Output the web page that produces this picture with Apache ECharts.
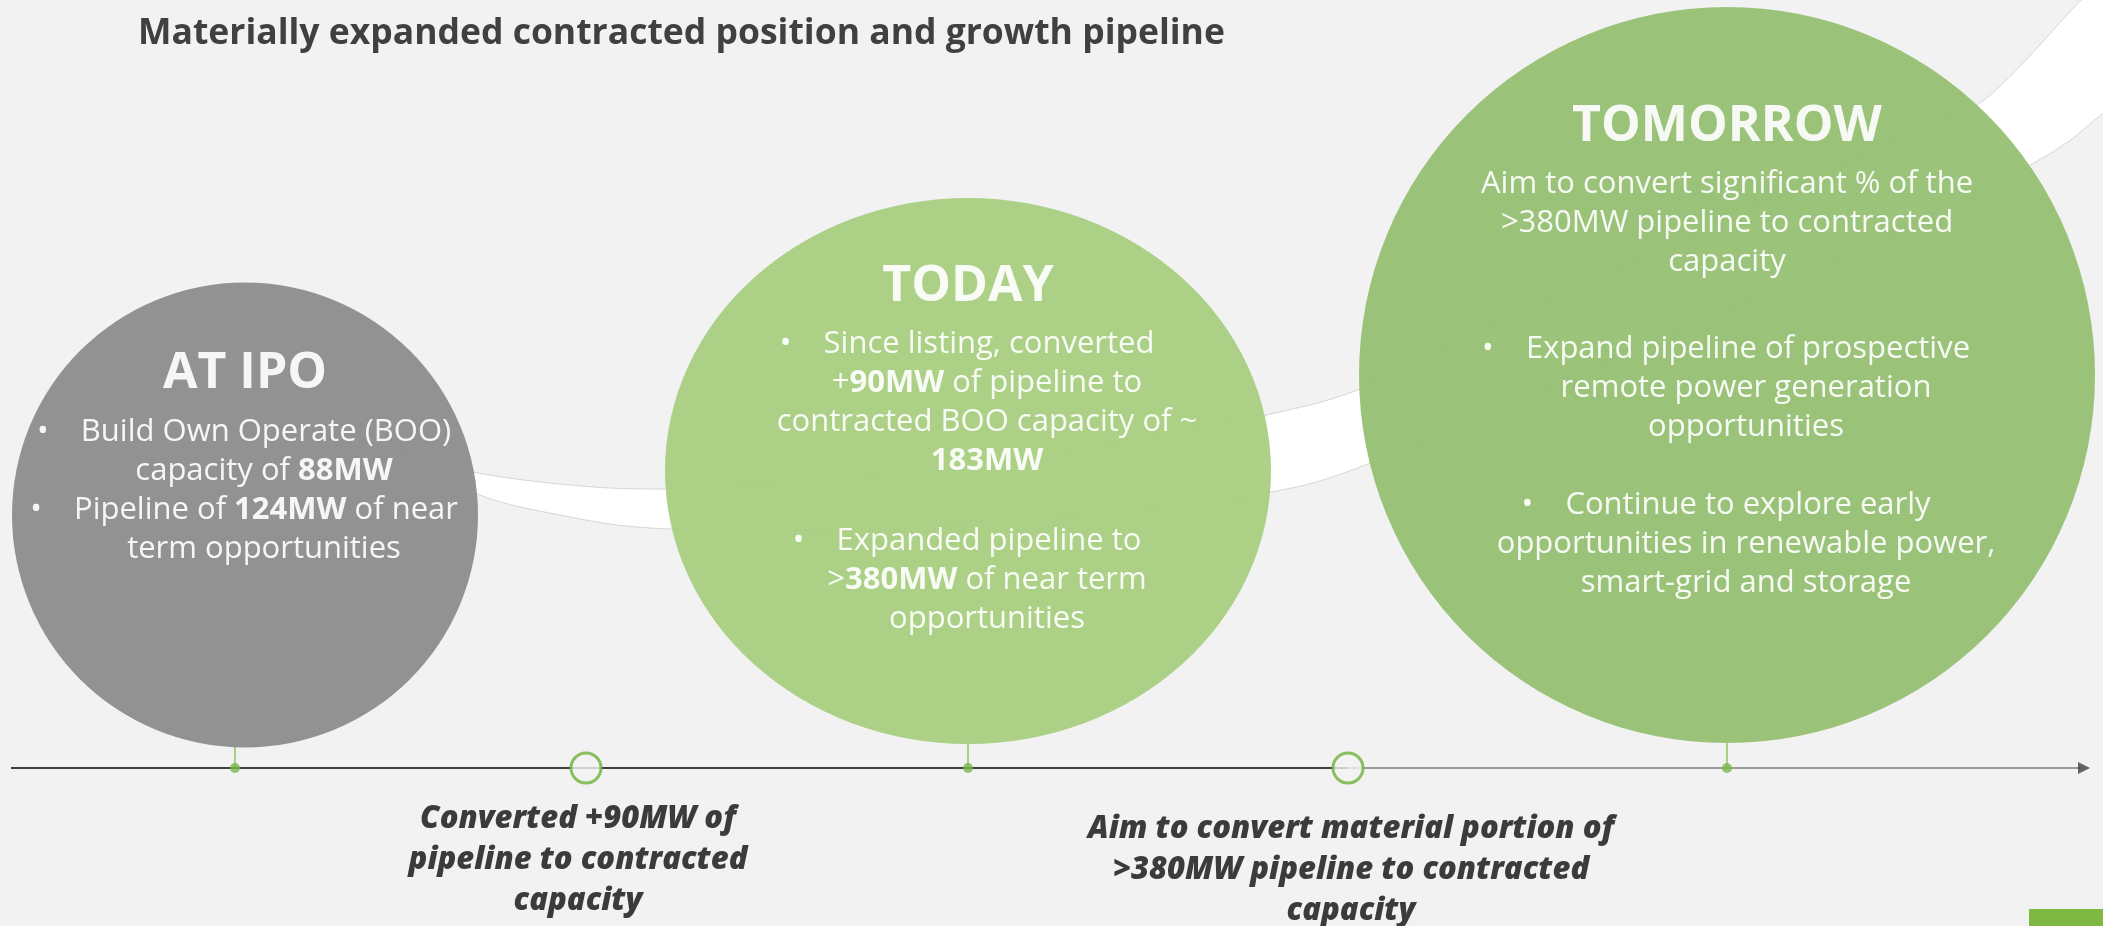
<!DOCTYPE html>
<html>
<head>
<meta charset="utf-8">
<script src="https://cdn.jsdelivr.net/npm/echarts@6/dist/echarts.min.js"></script>
<style>
  html, body { margin: 0; padding: 0; background: #f2f2f2; }
  #main { width: 2103px; height: 926px; }
</style>
</head>
<body>
<div id="main"></div>
<script>
// ---------------- data ----------------
var stageNames = ['AT IPO', 'TODAY', 'TOMORROW'];
var stageTickX = [235, 968, 1727];                       // stage dots on the timeline
var stageCenter = [[245, 515], [968, 471], [1727, 375]]; // bubble centres
var stageSize = [[466, 465], [606, 546], [736, 736]];    // bubble width / height
var stageBottom = [747, 744, 743];
var milestoneX = [586, 1348];
var timelineY = 768;
var timelineStart = 11;
var timelineEnd = 2080;

// white swoosh behind the bubbles (upper and lower edge)
var swooshUpper = [[400, 452], [473, 472], [560, 484], [650, 489], [800, 485], [1000, 466], [1150, 440],
  [1271, 414], [1360, 389], [1500, 325], [1700, 235], [1900, 140], [1984, 100], [2081, 0], [2140, -60]];
var swooshLower = [[400, 452], [480, 495], [560, 515], [650, 528], [800, 530], [1000, 518], [1150, 505],
  [1271, 492], [1360, 467], [1500, 405], [1700, 318], [1900, 228], [2039, 160], [2103, 113], [2160, 60]];

var titleText = 'Materially expanded contracted position and growth pipeline';

var stageText = [
  [
    '{h|AT IPO}',
    '{bul|•}{t|Build Own Operate (BOO)}{pad|\u00a0}',
    '{ind|\u00a0}{t|capacity of }{bold|88MW}',
    '{bul|•}{t|Pipeline of }{bold|124MW}{t| of near}{pad|\u00a0}',
    '{ind|\u00a0}{t|term opportunities}'
  ],
  [
    '{h|TODAY}',
    '{bul|•}{t|Since listing, converted}{pad|\u00a0}',
    '{ind|\u00a0}{t|+}{bold|90MW}{t| of pipeline to}',
    '{ind|\u00a0}{t|contracted BOO capacity of ~}',
    '{ind|\u00a0}{bold|183MW}',
    '{gap3|\u00a0}',
    '{bul|•}{t|Expanded pipeline to}{pad|\u00a0}',
    '{ind|\u00a0}{t|>}{bold|380MW}{t| of near term}',
    '{ind|\u00a0}{t|opportunities}'
  ],
  [
    '{h|TOMORROW}',
    '{t|Aim to convert significant % of the}',
    '{t|>380MW pipeline to contracted}',
    '{t|capacity}',
    '{gap2|\u00a0}',
    '{bul|•}{t|Expand pipeline of prospective}{pad|\u00a0}',
    '{ind|\u00a0}{t|remote power generation}',
    '{ind|\u00a0}{t|opportunities}',
    '{gap|\u00a0}',
    '{bul|•}{t|Continue to explore early}{pad|\u00a0}',
    '{ind|\u00a0}{t|opportunities in renewable power,}',
    '{ind|\u00a0}{t|smart-grid and storage}'
  ]
];

var milestoneText = [
  ['Converted +90MW of', 'pipeline to contracted', 'capacity'],
  ['Aim to convert material portion of', '>380MW pipeline to contracted', 'capacity']
];

// ---------------- styles ----------------
var FONT = 'Open Sans';
var stageColors = ['#8a8a8a', '#a5cd7d', '#93bf6f'];
var stageLabelTop = [53, 50, 81];
var milestoneLabelTop = [47, 57];
var milestoneLabelDx = [-8, 3];

var rich = {
  h: { fontFamily: FONT, fontSize: 50, fontWeight: 'bold', color: '#fff', lineHeight: 77 },
  t: { fontFamily: FONT, fontSize: 31, color: '#fff', lineHeight: 39 },
  bold: { fontFamily: FONT, fontSize: 31, fontWeight: 'bold', color: '#fff', lineHeight: 39 },
  bul: { fontFamily: FONT, fontSize: 31, color: '#fff', width: 76, lineHeight: 39 },
  pad: { fontFamily: FONT, fontSize: 31, width: 34, lineHeight: 39 },
  ind: { fontFamily: FONT, fontSize: 31, width: 38, lineHeight: 39 },
  gap: { fontFamily: FONT, fontSize: 31, lineHeight: 39 },
  gap2: { fontFamily: FONT, fontSize: 31, lineHeight: 48 },
  gap3: { fontFamily: FONT, fontSize: 31, lineHeight: 41 }
};

// catmull-rom points -> cubic bezier path segments
function smoothSegments(pts) {
  var d = '';
  for (var i = 0; i < pts.length - 1; i++) {
    var p0 = pts[i - 1] || pts[i], p1 = pts[i], p2 = pts[i + 1], p3 = pts[i + 2] || p2;
    var c1x = p1[0] + (p2[0] - p0[0]) / 6, c1y = p1[1] + (p2[1] - p0[1]) / 6;
    var c2x = p2[0] - (p3[0] - p1[0]) / 6, c2y = p2[1] - (p3[1] - p1[1]) / 6;
    d += ' C' + c1x + ' ' + c1y + ' ' + c2x + ' ' + c2y + ' ' + p2[0] + ' ' + p2[1];
  }
  return d;
}

var chart = echarts.init(document.getElementById('main'));

var option = {
  backgroundColor: '#f2f2f2',
  animation: false,
  title: {
    text: titleText,
    left: 133,
    top: 11,
    textStyle: { fontFamily: FONT, fontSize: 35.5, fontWeight: 'bold', color: '#404040' }
  },
  grid: { left: 0, right: 0, top: 0, bottom: 0 },
  xAxis: { type: 'value', min: 0, max: 2103, show: false },
  yAxis: { type: 'value', min: 0, max: 926, inverse: true, show: false },
  series: [
    {
      // swoosh
      type: 'custom',
      silent: true,
      z: 1,
      data: [[0, 0]],
      renderItem: function (params, api) {
        var up = swooshUpper.map(function (p) { return api.coord(p); });
        var lo = swooshLower.map(function (p) { return api.coord(p); }).reverse();
        var d = 'M' + up[0][0] + ' ' + up[0][1] + smoothSegments(up) +
          ' L' + lo[0][0] + ' ' + lo[0][1] + smoothSegments(lo) + ' Z';
        return {
          type: 'path',
          shape: { pathData: d },
          style: { fill: '#ffffff', stroke: '#d6d6d6', lineWidth: 1 }
        };
      }
    },
    {
      // stage bubbles
      type: 'scatter',
      silent: true,
      z: 3,
      symbol: 'circle',
      data: stageNames.map(function (n, i) {
        return {
          name: n,
          value: stageCenter[i],
          symbolSize: stageSize[i],
          itemStyle: { color: stageColors[i], opacity: 0.92 },
          label: {
            show: true,
            position: ['50%', stageLabelTop[i]],
            align: 'center',
            verticalAlign: 'top',
            formatter: function () { return stageText[i].join('\n'); },
            rich: rich
          }
        };
      })
    },
    {
      // connectors from bubble to timeline
      type: 'lines',
      coordinateSystem: 'cartesian2d',
      silent: true,
      z: 4,
      lineStyle: { color: '#8cc45c', width: 1.5, opacity: 1 },
      data: stageTickX.map(function (x, i) {
        return { coords: [[x, stageBottom[i]], [x, timelineY]] };
      })
    },
    {
      type: 'line',
      silent: true,
      z: 5,
      symbol: 'none',
      lineStyle: { color: '#404040', width: 2 },
      data: [[timelineStart, timelineY], [milestoneX[1], timelineY]]
    },
    {
      type: 'line',
      silent: true,
      z: 5,
      symbol: 'none',
      lineStyle: { color: '#9c9c9c', width: 2 },
      data: [[milestoneX[1], timelineY], [timelineEnd, timelineY]]
    },
    {
      // arrow head
      type: 'scatter',
      silent: true,
      z: 6,
      symbol: 'path://M0,0 L12,6 L0,12 Z',
      symbolSize: [12, 12],
      itemStyle: { color: '#404040' },
      data: [[timelineEnd + 4, timelineY]]
    },
    {
      // stage dots
      type: 'scatter',
      silent: true,
      z: 6,
      symbolSize: 10,
      itemStyle: { color: '#7ab648' },
      data: stageTickX.map(function (x) { return [x, timelineY]; })
    },
    {
      // milestones
      type: 'scatter',
      silent: true,
      z: 6,
      symbolSize: 30,
      itemStyle: { color: '#f2f2f2', borderColor: '#6fb03a', borderWidth: 3 },
      data: milestoneX.map(function (x, i) {
        return {
          value: [x, timelineY],
          label: {
            show: true,
            position: ['50%', milestoneLabelTop[i]],
            offset: [milestoneLabelDx[i], 0],
            align: 'center',
            verticalAlign: 'top',
            fontFamily: FONT,
            fontSize: 31,
            fontStyle: 'italic',
            fontWeight: 800,
            lineHeight: 41,
            color: '#0d0d0d',
            formatter: function () { return milestoneText[i].join('\n'); }
          }
        };
      })
    }
  ],
  graphic: [
    {
      type: 'rect',
      left: 2029,
      top: 909,
      shape: { width: 74, height: 17 },
      style: { fill: '#7fb944' }
    }
  ]
};

chart.setOption(option);
</script>
</body>
</html>
